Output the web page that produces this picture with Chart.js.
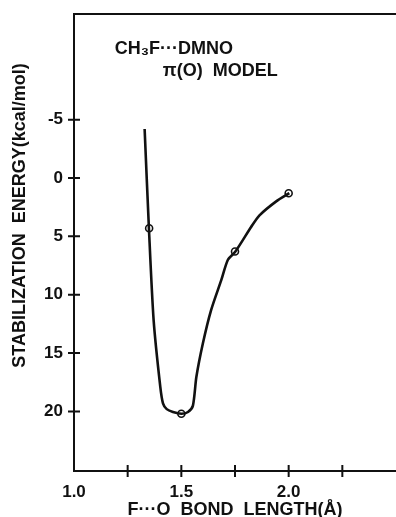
<!DOCTYPE html>
<html>
<head>
<meta charset="utf-8">
<script src="https://cdn.jsdelivr.net/npm/chart.js@4"></script>
<style>
  html, body { margin: 0; padding: 0; background: #fff; }
  canvas { display: block; }
</style>
</head>
<body>
<canvas id="energy-chart" width="396" height="517"></canvas>
<script>
// curve (F...O distance in A, stabilization energy in kcal/mol)
var curveX = [1.329, 1.349, 1.371, 1.402, 1.4145, 1.432, 1.461, 1.500, 1.531, 1.554, 1.570, 1.600, 1.639, 1.686, 1.717, 1.752, 1.825, 1.864, 1.942, 2.003];
var curveY = [-4.2, 4.3, 12.2, 17.9, 19.3, 19.8, 20.05, 20.2, 20.05, 19.5, 17.05, 14.2, 11.3, 8.75, 7.0, 6.3, 4.2, 3.2, 2.0, 1.3];

// computed points (open circles)
var pointX = [1.35, 1.5, 1.75, 2.0];
var pointY = [4.3, 20.2, 6.3, 1.3];

var xTicks = [1.0, 1.25, 1.5, 1.75, 2.0, 2.25];
var xLabels = ["1.0", "", "1.5", "", "2.0", ""];
var yTicks = [-5, 0, 5, 10, 15, 20];
var yLabels = ["-5", "0", "5", "10", "15", "20"];

var noteLines = ["CH\u2083F\u00b7\u00b7\u00b7DMNO", "\u03c0(O)  MODEL"];
var noteX = [1.19, 1.414];
var noteY = [-10.6, -8.7];

var ink = "#111"
var font = "'Liberation Sans', Arial, sans-serif"

// ticks that cross the axis lines + top frame + the model note
var frameBits = {
  id: "frameBits",
  afterDraw(chart) {
    var ctx = chart.ctx
    var a = chart.chartArea
    var xs = chart.scales.x
    var ys = chart.scales.y
    ctx.save()
    ctx.strokeStyle = ink
    ctx.lineWidth = 2
    ctx.beginPath()
    ctx.moveTo(a.left - 1, a.top)
    ctx.lineTo(a.right, a.top)
    xTicks.forEach(function (v, i) {
      if (i === 0) return
      var px = xs.getPixelForValue(v)
      ctx.moveTo(px, a.bottom - 6)
      ctx.lineTo(px, a.bottom + 6)
    })
    yTicks.forEach(function (v) {
      var py = ys.getPixelForValue(v)
      ctx.moveTo(a.left - 6, py)
      ctx.lineTo(a.left + 6, py)
    })
    ctx.stroke()

    ctx.fillStyle = ink
    ctx.font = "bold 18px " + font
    ctx.textBaseline = "alphabetic"
    noteLines.forEach(function (t, i) {
      ctx.fillText(t, xs.getPixelForValue(noteX[i]), ys.getPixelForValue(noteY[i]))
    })
    ctx.restore()
  }
}

new Chart("energy-chart", {
  type: "scatter",
  data: {
    datasets: [{
      type: "line",
      data: curveX.map(function (x, i) { return { x: x, y: curveY[i] } }),
      borderColor: ink,
      borderWidth: 2.6,
      pointRadius: 0,
      tension: 0.25,
      fill: false
    }, {
      data: pointX.map(function (x, i) { return { x: x, y: pointY[i] } }),
      pointRadius: 3.5,
      pointBackgroundColor: "#fff",
      pointBorderColor: ink,
      pointBorderWidth: 1.6
    }]
  },
  options: {
    responsive: false,
    devicePixelRatio: 1,
    animation: false,
    layout: { autoPadding: false, padding: { top: 14, right: 0, left: 0, bottom: 0 } },
    plugins: {
      legend: { display: false },
      tooltip: { enabled: false }
    },
    scales: {
      x: {
        type: "linear",
        min: 1.0,
        max: 2.5,
        afterFit: function (s) { s.height = 46; s.paddingLeft = 0; s.paddingRight = 0 },
        afterBuildTicks: function (s) { s.ticks = xTicks.map(function (v) { return { value: v } }) },
        grid: { drawOnChartArea: false, drawTicks: false },
        border: { display: true, color: ink, width: 2 },
        ticks: {
          color: ink,
          padding: 11,
          maxRotation: 0,
          font: { family: font, size: 17, weight: "bold" },
          callback: function (v) { var i = xTicks.indexOf(v); return i < 0 ? "" : xLabels[i] }
        },
        title: {
          display: true,
          text: "F\u00b7\u00b7\u00b7O  BOND  LENGTH(\u00c5)",
          color: ink,
          font: { family: font, size: 18, weight: "bold" },
          padding: { top: 0, bottom: -4 }
        }
      },
      y: {
        type: "linear",
        reverse: true,
        min: -14.05,
        max: 25.1,
        afterFit: function (s) { s.width = 74; s.paddingTop = 0; s.paddingBottom = 0 },
        afterBuildTicks: function (s) { s.ticks = yTicks.map(function (v) { return { value: v } }) },
        grid: { drawOnChartArea: false, drawTicks: false },
        border: { display: true, color: ink, width: 2 },
        ticks: {
          color: ink,
          padding: 11,
          font: { family: font, size: 17, weight: "bold" },
          callback: function (v) { var i = yTicks.indexOf(v); return i < 0 ? "" : yLabels[i] }
        },
        title: {
          display: true,
          text: "\u2003\u2003\u2003STABILIZATION  ENERGY(kcal/mol)",
          color: ink,
          font: { family: font, size: 18, weight: "bold" },
          padding: { top: 9, bottom: 0 }
        }
      }
    }
  },
  plugins: [frameBits]
});
</script>
</body>
</html>
